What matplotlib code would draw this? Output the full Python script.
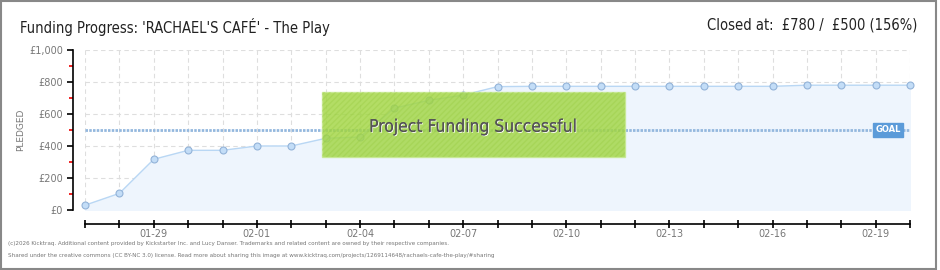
import numpy as np
import matplotlib
matplotlib.use("Agg")
import matplotlib.pyplot as plt
from matplotlib.patches import Rectangle
import matplotlib.patheffects as pe

# data (one point per day, 01-27 .. 02-20)
days = ["01-27", "01-28", "01-29", "01-30", "01-31", "02-01", "02-02", "02-03",
        "02-04", "02-05", "02-06", "02-07", "02-08", "02-09", "02-10", "02-11",
        "02-12", "02-13", "02-14", "02-15", "02-16", "02-17", "02-18", "02-19",
        "02-20"]
pledged = [30, 104, 317, 373, 373, 400, 400, 448, 456, 637, 685, 718, 771,
           773, 773, 773, 773, 773, 773, 773, 773, 780, 780, 780, 780]
goal = 500
labelled_days = ["01-29", "02-01", "02-04", "02-07", "02-10", "02-13", "02-16", "02-19"]

narrow = dict(family="DejaVu Sans", stretch="condensed")

W, H = 940, 270
fig = plt.figure(figsize=(W / 100, H / 100), dpi=100)
fig.patch.set_facecolor("white")

def fx(px):
    return px / W

def fy(py):
    return 1 - py / H

ax = fig.add_axes([fx(85), fy(210), fx(910) - fx(85), fy(50) - fy(210)])
x = np.arange(len(days))

ax.set_xlim(0, len(days) - 1)
ax.set_ylim(0, 1000)

# grid
for xi in x:
    ax.axvline(xi, color="#dedede", lw=0.8, dashes=(4, 3), zorder=0)
for yv in range(0, 1001, 200):
    ax.axhline(yv, color="#dedede", lw=0.8, dashes=(4, 3), zorder=0)

ax.fill_between(x, pledged, 0, color="#eef5fd", zorder=1)
ax.plot(x, pledged, color="#b9d7f4", lw=1.0, zorder=2)
ax.plot(x, pledged, "o", ms=5, mfc="#c3ddf7", mec="#93b3d8", mew=0.8, zorder=3,
        clip_on=False)

# goal line
ax.axhline(goal, color="#94b8de", lw=2.0, dashes=(0.9, 0.45), zorder=2)
ax.text(23.36, goal, "GOAL", ha="center", va="center", fontsize=6, color="white",
        fontweight="bold", zorder=6,
        bbox=dict(boxstyle="square,pad=0.3", fc="#5b9bd9", ec="#5b9bd9"))

# spines
for s in ["top", "right"]:
    ax.spines[s].set_visible(False)
ax.spines["left"].set_position(("outward", 9))
ax.spines["bottom"].set_position(("outward", 10))
ax.spines["left"].set_bounds(0, 1000)
ax.spines["bottom"].set_bounds(0, len(days) - 1)
ax.spines["left"].set_linewidth(1.2)
ax.spines["bottom"].set_linewidth(1.2)

ax.set_yticks(range(0, 1001, 200))
ax.set_yticklabels(["£0", "£200", "£400", "£600", "£800", "£1,000"])
ax.set_yticks(range(100, 1000, 200), minor=True)
ax.tick_params(axis="y", which="major", length=4, width=1.2, color="black",
               labelsize=7, labelcolor="#777777", pad=3)
ax.tick_params(axis="y", which="minor", length=3, width=1.2, color="#ee0000")

ax.set_xticks(x)
ax.set_xticklabels([d if d in labelled_days else "" for d in days])
ax.tick_params(axis="x", which="major", direction="inout", length=6, width=1.2,
               labelsize=7, labelcolor="#777777", pad=1)

ax.set_ylabel("PLEDGED", fontsize=6.5, color="#777777")
ax.yaxis.set_label_coords(-(85 - 25) / 825, 0.5)

# success banner
ax.add_patch(Rectangle((6.9, 330), 8.8, 410, fc="#a2d643", ec="#c6e98f", lw=1.0,
                       alpha=0.82, zorder=4))
ax.add_patch(Rectangle((6.9, 330), 8.8, 410, fc="none", ec="#94c83a", lw=0,
                       hatch="//////", alpha=0.3, zorder=4))
ax.text(11.3, 520, "Project Funding Successful", ha="center", va="center",
        fontsize=12.5, color="#555555", zorder=5, **narrow,
        path_effects=[pe.withSimplePatchShadow(offset=(0.6, -0.6), shadow_rgbFace="white",
                                               alpha=1.0), pe.Normal()])

# titles
fig.text(fx(20), fy(27), "Funding Progress: 'RACHAEL'S CAFÉ' - The Play", ha="left",
         va="center", fontsize=10.5, color="#222222", **narrow)
fig.text(fx(917), fy(25), "Closed at:  £780 /  £500 (156%)", ha="right",
         va="center", fontsize=10.5, color="#222222", **narrow)

fig.text(fx(8), fy(243), "(c)2026 Kicktraq. Additional content provided by Kickstarter Inc. and Lucy Danser. "
         "Trademarks and related content are owned by their respective companies.",
         ha="left", va="center", fontsize=4.5, color="#777777", **narrow)
fig.text(fx(8), fy(256), "Shared under the creative commons (CC BY-NC 3.0) license. Read more about sharing "
         "this image at www.kicktraq.com/projects/1269114648/rachaels-cafe-the-play/#sharing",
         ha="left", va="center", fontsize=4.5, color="#777777", **narrow)

# outer border
fig.patches.append(Rectangle((fx(0.5), fy(268.5)), fx(935.5), fy(0.5) - fy(268.5),
                             transform=fig.transFigure, fill=False, ec="#888888",
                             lw=1.5))

fig.savefig("out.png", dpi=100)
